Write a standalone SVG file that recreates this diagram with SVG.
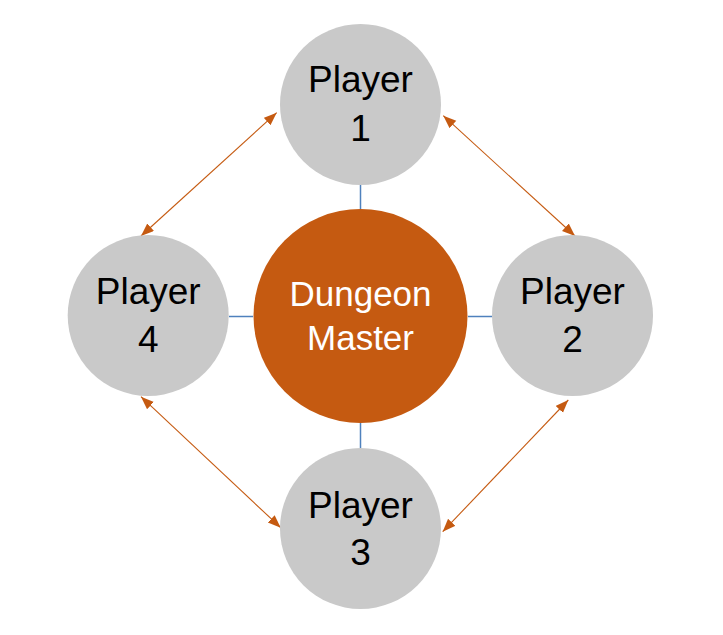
<svg xmlns="http://www.w3.org/2000/svg" width="723" height="635" viewBox="0 0 723 635">
<style>
.player{fill:#C9C9C9}
.dm{fill:#C55A11}
.pt{font-family:"Liberation Sans",Arial,sans-serif;font-size:37px;fill:#000;text-anchor:middle}
.dt{font-family:"Liberation Sans",Arial,sans-serif;font-size:35px;fill:#fff;text-anchor:middle}
.blue{stroke:#4F81BD;stroke-width:1.5;fill:none}
.orange{stroke:#C55A11;stroke-width:1.1;fill:none;marker-start:url(#ah);marker-end:url(#ah)}
</style>
<defs>
<marker id="ah" markerUnits="userSpaceOnUse" markerWidth="14" markerHeight="11" refX="13" refY="5" orient="auto-start-reverse">
<path d="M0,0 L13,5 L0,10 z" fill="#C55A11"/>
</marker>
</defs>
<rect width="723" height="635" fill="#fff"/>
<g id="connectors">
<line class="blue" x1="360.5" y1="185" x2="360.5" y2="209"/>
<line class="blue" x1="360.5" y1="423" x2="360.5" y2="448"/>
<line class="blue" x1="229" y1="316.5" x2="253" y2="316.5"/>
<line class="blue" x1="468" y1="316.5" x2="492" y2="316.5"/>
<line class="orange" x1="141" y1="236" x2="276.7" y2="112.7"/>
<line class="orange" x1="443.3" y1="115.7" x2="575" y2="236"/>
<line class="orange" x1="568.3" y1="400" x2="442.7" y2="531.7"/>
<line class="orange" x1="141" y1="396.7" x2="280.7" y2="527.7"/>
</g>
<g id="dungeon-master">
<circle class="dm" cx="360.5" cy="316" r="107"/>
<text class="dt" x="360.5" y="306">Dungeon</text>
<text class="dt" x="360.5" y="350">Master</text>
</g>
<g id="player1">
<circle class="player" cx="360.5" cy="104.5" r="80.5"/>
<text class="pt" x="360.5" y="92">Player</text>
<text class="pt" x="360.5" y="141">1</text>
</g>
<g id="player2">
<circle class="player" cx="572.5" cy="315.5" r="80.5"/>
<text class="pt" x="572.5" y="304">Player</text>
<text class="pt" x="572.5" y="352">2</text>
</g>
<g id="player3">
<circle class="player" cx="360.5" cy="528.5" r="80.5"/>
<text class="pt" x="360.5" y="517.5">Player</text>
<text class="pt" x="360.5" y="565">3</text>
</g>
<g id="player4">
<circle class="player" cx="148.2" cy="315.5" r="80.5"/>
<text class="pt" x="148.2" y="304">Player</text>
<text class="pt" x="148.2" y="352">4</text>
</g>
</svg>
